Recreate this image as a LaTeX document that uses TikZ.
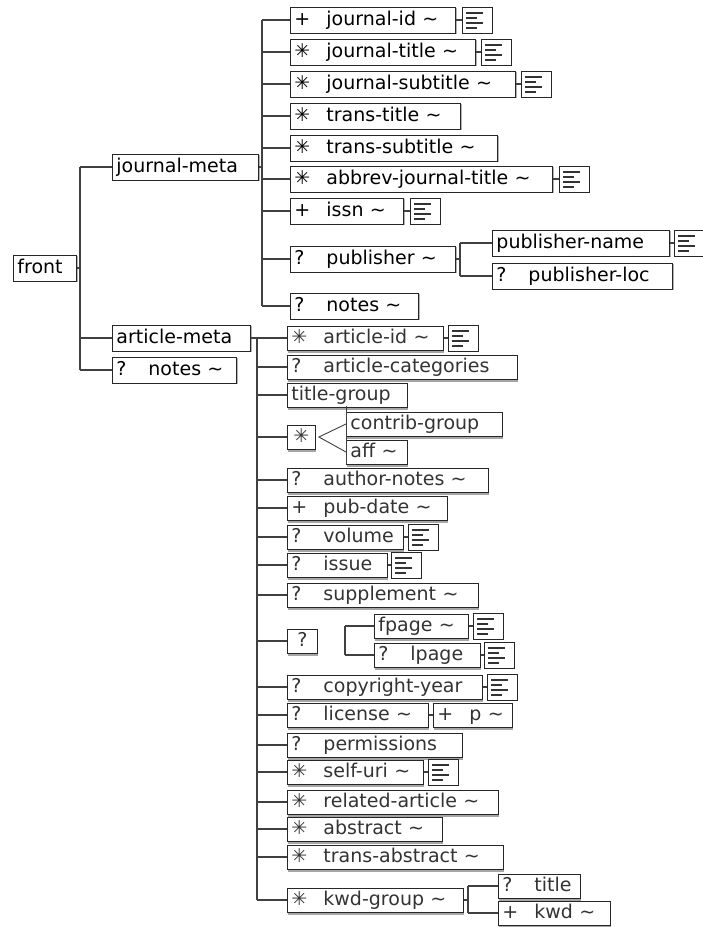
\documentclass[tikz,border=0pt]{standalone}
\usepackage{fontspec}
\setmainfont{DejaVu Sans}
\usetikzlibrary{shadows}

\newcommand{\cardsym}[1]{\makebox[32pt][l]{#1}}
\newcommand{\tld}{\textasciitilde}
\newcommand{\astsym}{✳}

\tikzset{
  box/.style={draw=black!85, line width=0.9pt, fill=white, anchor=west,
              inner xsep=4pt, inner ysep=0pt, font=\fontsize{19}{22}\selectfont,
              text height=14pt, text depth=4pt},
  el/.style={box, minimum height=26pt,
             drop shadow={shadow xshift=1.2pt, shadow yshift=-1.2pt, fill=gray!60, opacity=1}},
  ael/.style={box, minimum height=24pt, text=black!80,
              drop shadow={shadow xshift=1pt, shadow yshift=-2.5pt, fill=gray!70, opacity=1}},
  icon/.style={draw=black!85, line width=0.9pt, fill=white, anchor=west,
               minimum width=30pt, minimum height=26pt, inner sep=0pt,
               drop shadow={shadow xshift=1pt, shadow yshift=-1.2pt, fill=gray!60, opacity=1},
               path picture={
                 \foreach \k/\l in {1/0.75, 2/0.5, 3/0.75, 4/0.5}
                   \draw[line width=2pt, black!80]
                     ([xshift=4pt, yshift=-\k*5pt-0.5pt]path picture bounding box.north west)
                     -- ++(\l*22pt,0);
               }},
  link/.style={draw=black!75, line width=1.2pt},
}

\begin{document}
\begin{tikzpicture}[x=1pt, y=-1pt]
  \useasboundingbox (0,0) rectangle (703,927);

  % Root and its three children
  \node[el, text width=55pt] (front) at (13,268) {front};
  \node[el, text width=138pt] (jmeta) at (112,167) {journal-meta};
  \node[el, text width=130pt] (ameta) at (112,338) {article-meta};
  \node[el, text width=116pt] (fnotes) at (112,370) {\cardsym{?}notes \tld};

  % journal-meta content
  \foreach \nm/\yy/\ww/\lbl in {
      jid/20/165/{\cardsym{+}journal-id \tld},
      jtitle/52/185/{\cardsym{\astsym}journal-title \tld},
      jsub/84/225/{\cardsym{\astsym}journal-subtitle \tld},
      ttitle/116/170/{\cardsym{\astsym}trans-title \tld},
      tsub/148/207/{\cardsym{\astsym}trans-subtitle \tld},
      abbrev/179/262/{\cardsym{\astsym}abbrev-journal-title \tld},
      issn/211/113/{\cardsym{+}issn \tld},
      publ/259/165/{\cardsym{?}publisher \tld},
      jnotes/306/128/{\cardsym{?}notes \tld}} {
    \pgfmathsetmacro{\tw}{\ww-8}
    \node[el, text width=\tw pt] (\nm) at (290,\yy) {\lbl};
  }
  \node[el, text width=169pt] (pubname) at (492,243) {publisher-name};
  \node[el, text width=172pt] (publoc) at (492,276) {\cardsym{?}publisher-loc};

  % article-meta content
  \foreach \nm/\yy/\ww/\lbl in {
      aid/338/156/{\cardsym{\astsym}article-id \tld},
      acat/367/230/{\cardsym{?}article-categories},
      tgroup/395/120/{title-group},
      anotes/480/201/{\cardsym{?}author-notes \tld},
      pdate/508/160/{\cardsym{+}pub-date \tld},
      vol/537/116/{\cardsym{?}volume},
      iss/565/100/{\cardsym{?}issue},
      supp/595/191/{\cardsym{?}supplement \tld},
      cyear/687/195/{\cardsym{?}copyright-year},
      lic/715/141/{\cardsym{?}license \tld},
      perm/745/175/{\cardsym{?}permissions},
      suri/772/136/{\cardsym{\astsym}self-uri \tld},
      relart/802/211/{\cardsym{\astsym}related-article \tld},
      abs/829/155/{\cardsym{\astsym}abstract \tld},
      tabs/857/216/{\cardsym{\astsym}trans-abstract \tld},
      kwdg/900/176/{\cardsym{\astsym}kwd-group \tld}} {
    \pgfmathsetmacro{\tw}{\ww-8}
    \node[ael, text width=\tw pt] (\nm) at (287,\yy) {\lbl};
  }
  \node[ael, text width=20pt, align=center] (chc) at (287,437) {\astsym};
  \node[ael, text width=148pt] (cgroup) at (346,424) {contrib-group};
  \node[ael, text width=53pt] (aff) at (346,452) {aff \tld};
  \node[ael, text width=22pt, align=center] (optq) at (287,641) {?};
  \node[ael, text width=86pt] (fpage) at (374,626) {fpage \tld};
  \node[ael, text width=98pt] (lpage) at (374,655) {\cardsym{?}lpage};
  \node[ael, text width=71pt] (pp) at (433,715) {\cardsym{+}p \tld};
  \node[ael, text width=74pt] (kwtitle) at (498,886) {\cardsym{?}title};
  \node[ael, text width=104pt] (kwd) at (498,913) {\cardsym{+}kwd \tld};

  % Text-content icons
  \foreach \nm/\xx/\yy in {jid/462/20, jtitle/481/52, jsub/521/84, abbrev/559/179,
      issn/410/211, pubname/674/243, aid/448/338, vol/408/537, iss/391/565,
      fpage/473/626, lpage/484/655, cyear/487/687, suri/428/772} {
    \node[icon] (\nm-i) at (\xx,\yy) {};
    \draw[link] (\nm.east) -- (\nm-i.west);
  }
  \draw[link] (lic.east) -- (pp.west);

  % front tree
  \coordinate (fbus) at (80,268);
  \draw[link] (front.east) -- (fbus);
  \draw[link] (fbus |- jmeta.west) -- (fbus |- fnotes.west);
  \foreach \nm in {jmeta, ameta, fnotes}
    \draw[link] (fbus |- \nm.west) -- (\nm.west);

  % journal-meta tree
  \coordinate (jbus) at (262,167);
  \draw[link] (jmeta.east) -- (jbus);
  \draw[link] (jbus |- jid.west) -- (jbus |- jnotes.west);
  \foreach \nm in {jid, jtitle, jsub, ttitle, tsub, abbrev, issn, publ, jnotes}
    \draw[link] (jbus |- \nm.west) -- (\nm.west);

  % publisher tree
  \coordinate (pbus) at (460,259);
  \draw[link] (publ.east) -- (pbus);
  \draw[link] (pbus |- pubname.west) -- (pbus |- publoc.west);
  \foreach \nm in {pubname, publoc}
    \draw[link] (pbus |- \nm.west) -- (\nm.west);

  % article-meta tree
  \coordinate (abus) at (257,338);
  \draw[link] (ameta.east) -- (abus);
  \draw[link, line width=2pt] (abus |- aid.west) -- (abus |- kwdg.west);
  \foreach \nm in {aid, acat, tgroup, chc, anotes, pdate, vol, iss, supp, optq,
      cyear, lic, perm, suri, relart, abs, tabs, kwdg}
    \draw[link] (abus |- \nm.west) -- (\nm.west);

  % choice fan
  \coordinate (fan) at ([xshift=3pt]chc.east);
  \draw[link, line width=0.9pt] (cgroup.west) -- (fan) -- (aff.west);
  \draw[link, line width=0.9pt] ([yshift=6pt]cgroup.north west) -- (aff.south west);

  % page sequence
  \coordinate (sbus) at (345,641);
  \draw[link] (sbus |- fpage.west) -- (sbus |- lpage.west);
  \foreach \nm in {fpage, lpage}
    \draw[link] (sbus |- \nm.west) -- (\nm.west);

  % kwd-group tree
  \coordinate (kbus) at (468,900);
  \draw[link] (kwdg.east) -- (kbus);
  \draw[link] (kbus |- kwtitle.west) -- (kbus |- kwd.west);
  \foreach \nm in {kwtitle, kwd}
    \draw[link] (kbus |- \nm.west) -- (\nm.west);
\end{tikzpicture}
\end{document}
